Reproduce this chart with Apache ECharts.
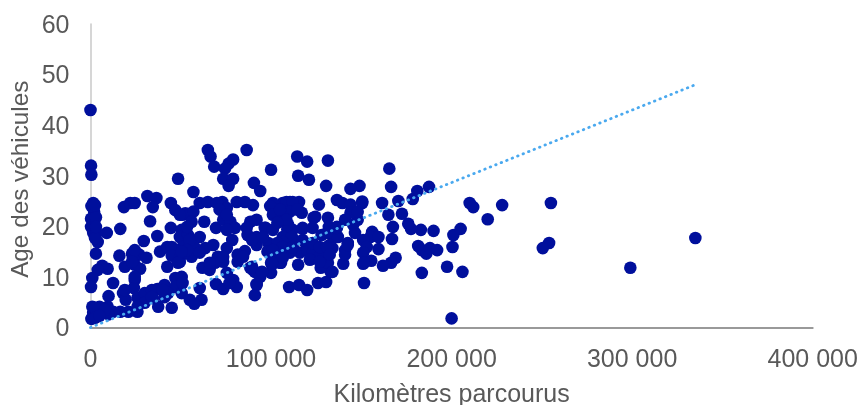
<!DOCTYPE html>
<html><head><meta charset="utf-8">
<style>html,body{margin:0;padding:0;background:#fff}#c{width:858px;height:405px}</style>
<script src="https://cdn.jsdelivr.net/npm/echarts@6/dist/echarts.min.js"></script>
</head><body><div id="c"></div>
<script>
const xTitle = "Kilomètres parcourus";
const yTitle = "Age des véhicules";
// [thousands of km, age]
const vehicles = [
[0,43],[0.3,32],[0.5,30.2],[200,1.8],[299,11.8],[335,17.7],[255,24.6],[254,16.7],[250.5,15.7],[228,24.2],[220,21.4],[210,24.6],[212,23.8],
[206,11],[197.5,12],[183.5,10.8],[200.5,15.9],[201,18.3],[205,19.5],[190,19.1],[183,19.3],[177.5,19.5],[176,20.5],[172.5,22.5],[170.5,25],[178.5,25.4],[181,27],[187.5,27.8],[166.5,27.8],[165.5,31.4],[165,22.3],[167.5,19.9],[167,17.5],[181.5,16.1],[183.5,15.3],[186,14.6],[188,15.7],[192,15.3],[169,13.8],[166.5,12.8],[162,12.2],[151.5,8.8],
[131.5,33],[120,32.8],[114.5,33.8],[115,30],[121,29.2],[130.5,28],[100,31.2],[149,28],[144,27.4],[90.5,28.6],[94,27],
[136.5,25.2],[139.5,24.6],[150.5,24.6],[161.5,24.6],[126.5,24.3],[115.5,24.8],[110.5,24.8],[106.5,24.6],[101,24.6],[99.5,24],[90,24.2],[144,24.3],
[117,22.7],[124.5,21.9],[131.5,21.7],[136.5,19.9],[148,21.3],[144,22.7],[141,21.3],[132,19.9],[117.5,19.5],[97,19.7],[92,21.3],[88.5,20.9],[104,21.3],[109,19.4],[112,19.3],[128,18.3],[134.5,17.9],[146.5,18.7],[156,18.9],[155,17.9],[159.5,17.9],[142.5,16.7],[141,15.3],[140,12.6],[151,17.3],[153,15.9],[159.5,15.5],[151,14.8],[155.5,13.2],[151,12.6],[98.5,16.7],[92,16.3],[92,17.9],[98,15],[100,12.8],[105.5,12.8],[100,10.8],[94,10.8],[90,11.4],[92,8.4],[91,6.4],[110,8],[115.5,8.4],[120,7.4],[126,8.8],[130.5,9],[115,12.4],[133,11],[127.5,11.8],[122,14],[131,14.8],[106.5,16.7],[112,17.3],[120,15.9],[125.5,15.3],[116,14.8],[132.5,16.3],[110.5,14.8],[128,13.8],[131.5,12.8],[123,16.3],[106.5,17.9],
[1.5,24.6],[2,22.9],[2,20.9],[0.3,19.9],[1.5,18.7],[4,16.9],[3,14.6],[9,18.7],[16.5,19.5],[18.5,23.8],[22,24.6],[24.5,24.6],[31.5,26],[36.5,25.6],[34.5,23.8],[33,21],[44.5,24.6],[47,23.2],[51,22.3],[44.5,19.7],[37,18.1],[29.5,17.1],[50.5,19.3],
[16,14.2],[23,14.6],[27,14.4],[31,13.8],[23.5,13.8],[24.5,12.4],[19,12],[27.5,11.6],[24.5,9.4],[24,7.8],[12.5,8.8],[9.5,11.6],[6.5,12.2],[4,11.4],[1,9.8],[0.3,8],[10,6.2],[18,6.8],[19.5,5.5],[26,5.9],[30,6.8],[37,7.6],[41,8.4],[47,9.8],[42.5,12],[38.5,15],[42.5,15.9],[45,15.9],[45,14.2],[49.5,13.8],[47,8],[34.5,5.8],[37.5,4.1],[45,3.9],[41,6],[26,3.1],[21,3.1],[16.5,3.1],[9.5,4.1],[5,4.1],[1,4.1],[1,1.9],[1.5,2.9],[6.5,3.1],[12.5,3.1],[30,4.9],[34,7.4],[50.5,6.8],[50.5,10],[0.5,1.7],[3,2.3],[10,2.6],
[65,35.1],[66.5,33.8],[68.5,31.8],[79,33.2],[76.5,32.4],[74.5,31.4],[86.5,35.1],[73.5,29.4],[79,29.4],[76.5,28],[57,26.8],[48.5,29.4],[81,24.8],[85.5,24.8],[60.5,24.6],[65,24.8],[73,24.8],[70,24.6],[75.5,23.6],[52.5,22.6],[57,22.9],[49.5,22.3],[56,20.9],[63,20.9],[69.5,19.7],[73.5,21.3],[77.5,20.9],[80,19.7],[96.5,19.7],[101,22.3],[87,18.3],[93,17.7],[78.5,17.3],[75.5,15.7],[85.5,15.1],[81.5,14.4],[98.5,15],
[49.5,17.9],[54,18.3],[60.5,17.9],[63.5,15.7],[68,16.3],[57.5,15.9],[51,15.9],[56,14],[70.5,14],[73.5,13],[69,12.8],[62,11.8],[66,11.4],[100.5,12.4],[91,11],[94,10],[69.5,8.6],[73.5,7.6],[79,9.4],[81,8],[92,8.6],[60.5,7.8],[61.5,5.5],[55,5.5],[57.5,4.7],[51,8.8],[81.5,13],[89.5,12],[75.5,10.8],[49.5,13],[52.5,14.8],
[108.5,24.8],[112,24.8],[106.5,22.7],[110.5,22.9],[104,20.9],[109.5,20.3],[117.5,19.7],[123.5,21.7],[123,19.7],[111.5,17.9],[106.5,16.9],[105,14.8],[102,13],[105,12.8],[120,15.3],[123,14.8],[127,14],[134,15.7],[134,11],[137,17.9],[141,14.4],[142.5,16.3],[151.5,12.8],[148,22.9],[150.5,24.9],
[53.5,19.9],[55,17.3],[53.5,15.3],[60.5,14.8],[71.5,23.3],[75.5,22.3],[75.5,19.3],[86.5,19.7],[89.5,17.3],[95.5,17.9],[101,19.3],[103.5,16.7],[73.5,14],[66,12.8],[84.5,14],[95,11],[88.5,11.8],[77,8.8],
[105,23.3],[108.5,21.3],[103.5,20.7],[114.5,23.3],[106.5,15.9],[112,15.9],[117.5,17.3],[123,16.7],[127,15.9],[131,15.9],[121.5,13.4],[127,13],[132.5,14.4],[106.5,13.8],[131,18.7],[136.5,19.7],[145.5,20.3],[101,15.3],[100.5,12.8],
[3.5,18.7],[2.5,17.7],[24.5,15.3],[23,13],[24.5,10],[19,7.4],[2.5,3.9],[8,3.5],[26,4.1],[43,6.8],[34,6],[40,7.4],[48.5,12.8],[50.5,15],[2.5,1.9],[5,2.3],
[0.3,21.5],[3,21.8],[3,19.9],[0.5,24],[2.5,24.2]
];
const trendKm = [0, 335000];
const trendAge = [0, 48];
const xTicks = {min:0,max:400000,interval:100000};
const yTicks = {min:0,max:60,interval:10};

const chart = echarts.init(document.getElementById('c'), null, {renderer:'canvas'});
const font = '"Liberation Sans", Arial, sans-serif';
const textColor = '#595959';
chart.setOption({
  animation:false,
  backgroundColor:'#fff',
  grid:{left:90.5,right:45.3,top:24,bottom:77.5,containLabel:false,outerBoundsMode:'none'},
  xAxis:{type:'value',...xTicks,
    name:xTitle,nameLocation:'middle',nameGap:55,nameMoveOverlap:false,
    nameTextStyle:{color:textColor,fontFamily:font,fontSize:25},
    axisLine:{show:true,onZero:false,lineStyle:{color:'#999999',width:2}},
    axisTick:{show:false},splitLine:{show:false},
    axisLabel:{color:textColor,fontFamily:font,fontSize:25,margin:20,hideOverlap:false,showMaxLabel:true,showMinLabel:true,
      formatter:v=>String(v).replace(/\B(?=(\d{3})+$)/g,' ')}
  },
  yAxis:{type:'value',...yTicks,
    name:yTitle,nameLocation:'middle',nameGap:57,nameMoveOverlap:false,
    nameTextStyle:{color:textColor,fontFamily:font,fontSize:24.3,padding:[0,7,0,0]},
    axisLine:{show:true,onZero:false,lineStyle:{color:'#c8c8c8',width:1.5}},
    axisTick:{show:false},splitLine:{show:false},
    axisLabel:{color:textColor,fontFamily:font,fontSize:25,margin:21,verticalAlign:'top',lineHeight:4}
  },
  series:[
    {type:'scatter',data:vehicles.map(p=>[p[0]*1000,p[1]]),symbol:'circle',symbolSize:12.6,clip:false,
     itemStyle:{color:'#000f9c',opacity:1},z:2},
    {type:'line',data:trendKm.map((k,i)=>[k,trendAge[i]]),symbol:'none',clip:false,silent:true,z:3,
     lineStyle:{color:'#4aa9ef',width:2.8,type:[0.5,5.4],cap:'round'}}
  ]
});
</script></body></html>
